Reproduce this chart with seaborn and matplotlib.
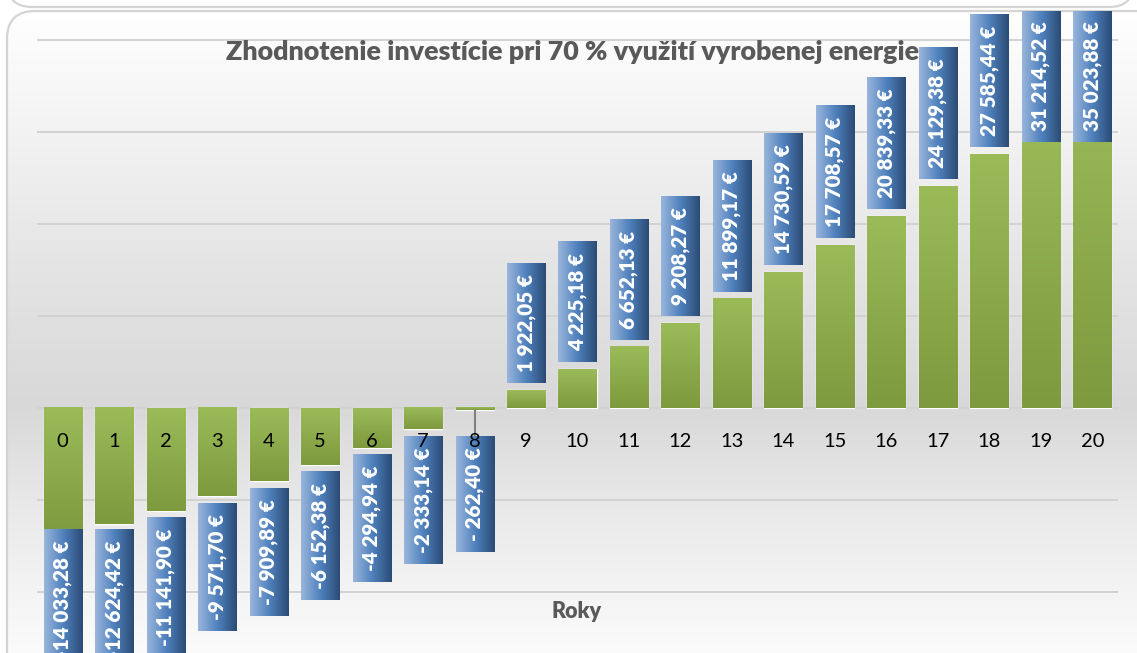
import numpy as np
import pandas as pd
import matplotlib
matplotlib.use("Agg")
import matplotlib.pyplot as plt
import seaborn as sns
from matplotlib.patches import FancyBboxPatch
from matplotlib.colors import LinearSegmentedColormap
from matplotlib.transforms import offset_copy

# data
years = list(range(21))
values = [-14033.28, -12624.42, -11141.90, -9571.70, -7909.89, -6152.38,
          -4294.94, -2333.14, -262.40, 1922.05, 4225.18, 6652.13, 9208.27,
          11899.17, 14730.59, 17708.57, 20839.33, 24129.38, 27585.44,
          31214.52, 35023.88]
value_labels = ["-14 033,28 €", "-12 624,42 €", "-11 141,90 €", "-9 571,70 €",
                "-7 909,89 €", "-6 152,38 €", "-4 294,94 €", "-2 333,14 €",
                "- 262,40 €", "1 922,05 €", "4 225,18 €", "6 652,13 €",
                "9 208,27 €", "11 899,17 €", "14 730,59 €", "17 708,57 €",
                "20 839,33 €", "24 129,38 €", "27 585,44 €", "31 214,52 €",
                "35 023,88 €"]
title = "Zhodnotenie investície pri 70 % využití vyrobenej energie"
xlabel = "Roky"

W, H = 1137, 653
sns.set_style("white")
plt.rcParams["font.family"] = ["Lato", "DejaVu Sans"]

fig = plt.figure(figsize=(W / 100, H / 100), dpi=100)

# background layer in pixel coordinates (y from top)
ax_bg = fig.add_axes([0, 0, 1, 1])
ax_bg.set_xlim(0, W)
ax_bg.set_ylim(H, 0)
ax_bg.axis("off")

frame = FancyBboxPatch((7, 11), 1160, 700, boxstyle="round,pad=0,rounding_size=28",
                       fc="none", ec="#d4d4d4", lw=1.6, zorder=3)
ax_bg.add_patch(frame)
rows = np.arange(H)
gray = np.interp(rows, [11, 80, 250, 405, 500, 600, 653],
                 [255, 248, 230, 216, 232, 245, 251]) / 255.0
img = np.repeat(gray[:, None, None], 3, axis=2) * np.ones((1, W, 1))
bg_img = ax_bg.imshow(img, extent=(0, W, H, 0), origin="upper", aspect="auto", zorder=1)
bg_img.set_clip_path(frame)
ax_bg.add_patch(FancyBboxPatch((7, -80), 1127, 87, boxstyle="round,pad=0,rounding_size=25",
                               fc="white", ec="#d4d4d4", lw=1.6, zorder=3))
ax_bg.set_xlim(0, W)
ax_bg.set_ylim(H, 0)

# main chart axes
ax = fig.add_axes([37 / W, 0, 1081 / W, 642 / H])
ax.set_facecolor("none")
df = pd.DataFrame({"rok": years, "hodnota": values})
sns.barplot(data=df, x="rok", y="hodnota", color="#8fae4f", saturation=1,
            width=0.74, ax=ax, zorder=2)

ylim = (-26630, 43152)
xlim = (-0.5, 20.5)

bar_cmap = LinearSegmentedColormap.from_list("bar", ["#7d9a3e", "#9bbb59"])
box_cmap = LinearSegmentedColormap.from_list("box", ["#9ab6dc", "#4f81bd", "#2b4b74"])
vgrad = np.linspace(0, 1, 256).reshape(-1, 1)
hgrad = np.linspace(0, 1, 256).reshape(1, -1)

for p in ax.patches:
    x0, y0 = p.get_x(), p.get_y()
    x1, y1 = x0 + p.get_width(), y0 + p.get_height()
    ax.imshow(vgrad, cmap=bar_cmap, origin="lower", aspect="auto",
              extent=(x0, x1, min(y0, y1), max(y0, y1)), zorder=2.1,
              interpolation="bilinear")

ax.set_xlim(*xlim)
ax.set_ylim(*ylim)
ax.set_yticks(np.arange(-20000, 40001, 10000))
ax.grid(axis="y", color="#d2d2d2", lw=1.4)
ax.grid(axis="x", visible=False)
ax.set_axisbelow(True)
ax.tick_params(bottom=False, labelbottom=False, left=False, labelleft=False)
ax.set_xlabel("")
ax.set_ylabel("")
sns.despine(ax=ax, left=True, bottom=True)

# year labels just under the zero line
tick_tr = offset_copy(ax.transData, fig=fig, y=-33, units="dots")
for i in years:
    ax.text(i, 0, str(i), transform=tick_tr, ha="center", va="center",
            fontsize=14.5, color="black", zorder=6)

# value labels in gradient boxes
texts = []
for i, lab in zip(years, value_labels):
    t = ax.text(i, 0, lab, rotation=90, ha="center", va="center", color="white",
                fontsize=14.9, fontweight="heavy", zorder=5)
    texts.append(t)

fig.canvas.draw()
renderer = fig.canvas.get_renderer()
inv = ax.transData.inverted()
gap, pad = 7, 11
extra_shift = {8: 19}
top_lim = H - 10
bottom_lim = -16
half_w = 0.37
for i, v, t in zip(years, values, texts):
    bb = t.get_window_extent(renderer)
    box_h = bb.height + 2 * pad
    end_px = ax.transData.transform((i, v))[1]
    if v >= 0:
        b0 = end_px + gap
        b1 = b0 + box_h
        if b1 > top_lim:
            b1 = top_lim
            b0 = b1 - box_h
    else:
        b1 = end_px - gap - extra_shift.get(i, 0)
        b0 = b1 - box_h
        if b0 < bottom_lim:
            b0 = bottom_lim
            b1 = b0 + box_h
    d0 = inv.transform((0, b0))[1]
    d1 = inv.transform((0, b1))[1]
    ax.imshow(hgrad, cmap=box_cmap, origin="lower", aspect="auto",
              extent=(i - half_w, i + half_w, d0, d1), zorder=4,
              interpolation="bilinear")
    t.set_position((i, (d0 + d1) / 2))
    if i in extra_shift:
        ax.plot([i, i], [v, d1], color="#808080", lw=1.5, zorder=3)

ax.set_xlim(*xlim)
ax.set_ylim(*ylim)

fig.text(573, 52, title, transform=ax_bg.transData, ha="center", va="center",
         fontsize=19.4, fontweight="heavy", color="#595959")
fig.text(577, 612, xlabel, transform=ax_bg.transData, ha="center", va="center",
         fontsize=15.5, fontweight="heavy", color="#595959")

fig.savefig("out.png", dpi=100)
